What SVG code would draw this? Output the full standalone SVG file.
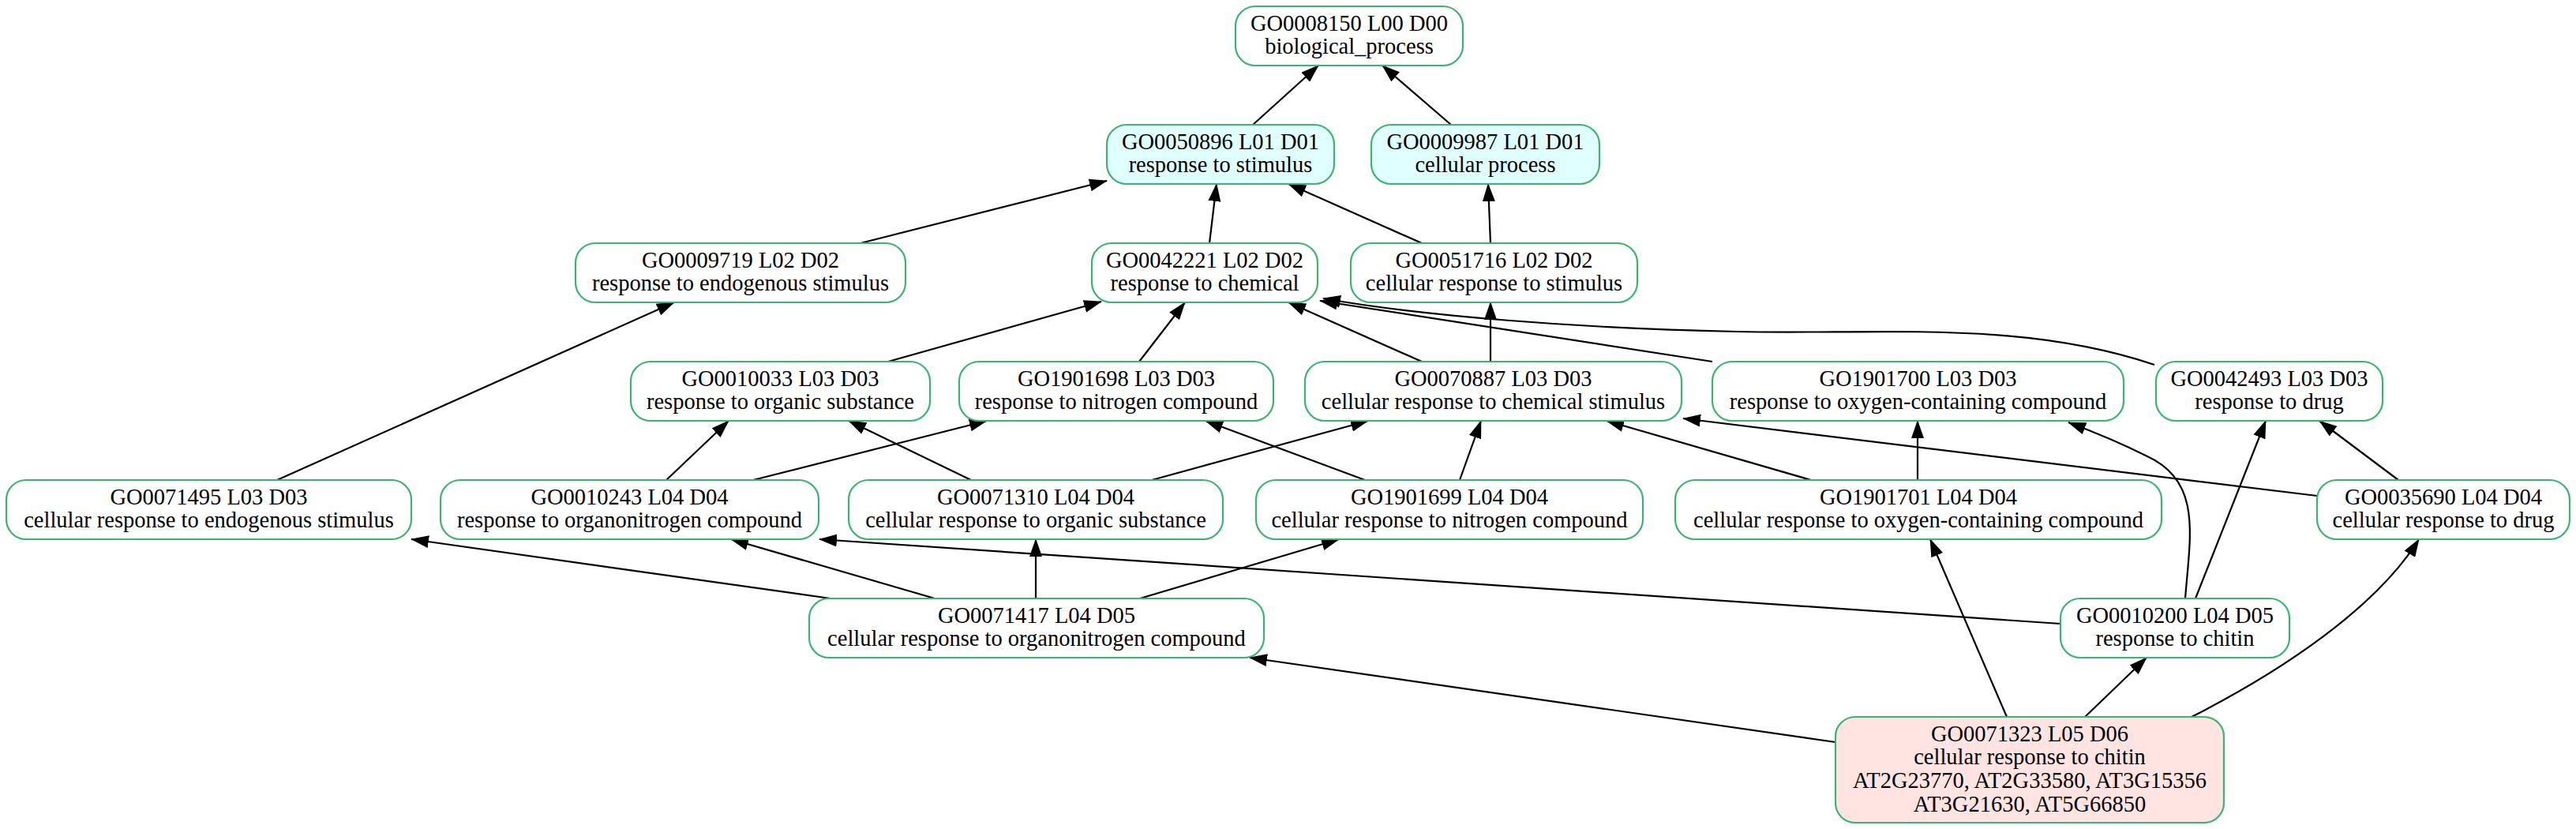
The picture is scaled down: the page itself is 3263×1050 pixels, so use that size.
<svg xmlns="http://www.w3.org/2000/svg" width="3263" height="1050" viewBox="0 0 3263 1050">
<style>
.node rect{fill:#ffffff;stroke:#3cb371;stroke-width:2.2}
.node.l1 rect{fill:#e0ffff}
.node.leaf rect{fill:#ffe4e1}
.node text{font-family:"Liberation Serif","Times New Roman",serif;font-size:28.5px;text-anchor:middle;fill:#000}
.edges path{fill:none;stroke:#000;stroke-width:2.2;marker-end:url(#arr)}
</style>
<defs>
<marker id="arr" markerUnits="userSpaceOnUse" markerWidth="23" markerHeight="16" viewBox="0 0 23 16" refX="22" refY="8" orient="auto"><path d="M0,0 L23,8 L0,16 z" fill="#000"/></marker>
</defs>
<rect width="3263" height="1050" fill="#fff"/>
<g class="edges" id="edges">
<path d="M1587,158 L1670,83"/>
<path d="M1838,158 L1751,83"/>
<path d="M1532,308 L1541,233"/>
<path d="M1801,308 L1632,233"/>
<path d="M1888,308 L1885,233"/>
<path d="M1090,308 L1402,229"/>
<path d="M1125,458 L1395,382"/>
<path d="M1443,458 L1501,383"/>
<path d="M1801,458 L1632,383"/>
<path d="M1888,458 L1888,383"/>
<path d="M2169,458 L1672,381"/>
<path d="M2729,462 C2560,405 2380,424 2200,420 C2000,416 1800,400 1676,378"/>
<path d="M351,608 L854,383"/>
<path d="M844,608 L923,533"/>
<path d="M954,608 L1250,533"/>
<path d="M1230,608 L1075,533"/>
<path d="M1459,608 L1733,533"/>
<path d="M1729,608 L1527,533"/>
<path d="M1849,608 L1876,533"/>
<path d="M2294,608 L2035,533"/>
<path d="M2429,608 L2429,533"/>
<path d="M2935,628 L2132,530"/>
<path d="M3038,608 L2938,533"/>
<path d="M2781,758 L2870,533"/>
<path d="M2768,758 C2774,680 2790,610 2720,578 C2690,563 2655,548 2620,535"/>
<path d="M2610,790 L1038,683"/>
<path d="M1052,758 L521,683"/>
<path d="M1184,758 L926,683"/>
<path d="M1312,758 L1312,683"/>
<path d="M1444,758 L1696,683"/>
<path d="M2325,940 L1583,833"/>
<path d="M2542,908 L2445,683"/>
<path d="M2641,908 L2719,833"/>
<path d="M2776,908 C2890,850 3010,770 3064,683"/>
</g>
<g class="node" id="GO0008150"><rect x="1565" y="8" width="288" height="75" rx="25"/><text><tspan x="1709" y="39">GO0008150 L00 D00</tspan><tspan x="1709" y="68">biological_process</tspan></text></g>
<g class="node l1" id="GO0050896"><rect x="1402" y="158" width="288" height="75" rx="25"/><text><tspan x="1546" y="189">GO0050896 L01 D01</tspan><tspan x="1546" y="218">response to stimulus</tspan></text></g>
<g class="node l1" id="GO0009987"><rect x="1737" y="158" width="289" height="75" rx="25"/><text><tspan x="1881.5" y="189">GO0009987 L01 D01</tspan><tspan x="1881.5" y="218">cellular process</tspan></text></g>
<g class="node" id="GO0009719"><rect x="729" y="308" width="418" height="75" rx="25"/><text><tspan x="938" y="339">GO0009719 L02 D02</tspan><tspan x="938" y="368">response to endogenous stimulus</tspan></text></g>
<g class="node" id="GO0042221"><rect x="1383" y="308" width="286" height="75" rx="25"/><text><tspan x="1526" y="339">GO0042221 L02 D02</tspan><tspan x="1526" y="368">response to chemical</tspan></text></g>
<g class="node" id="GO0051716"><rect x="1711" y="308" width="363" height="75" rx="25"/><text><tspan x="1892.5" y="339">GO0051716 L02 D02</tspan><tspan x="1892.5" y="368">cellular response to stimulus</tspan></text></g>
<g class="node" id="GO0010033"><rect x="799" y="458" width="379" height="75" rx="25"/><text><tspan x="988.5" y="489">GO0010033 L03 D03</tspan><tspan x="988.5" y="518">response to organic substance</tspan></text></g>
<g class="node" id="GO1901698"><rect x="1215" y="458" width="398" height="75" rx="25"/><text><tspan x="1414" y="489">GO1901698 L03 D03</tspan><tspan x="1414" y="518">response to nitrogen compound</tspan></text></g>
<g class="node" id="GO0070887"><rect x="1653" y="458" width="477" height="75" rx="25"/><text><tspan x="1891.5" y="489">GO0070887 L03 D03</tspan><tspan x="1891.5" y="518">cellular response to chemical stimulus</tspan></text></g>
<g class="node" id="GO1901700"><rect x="2169" y="458" width="521" height="75" rx="25"/><text><tspan x="2429.5" y="489">GO1901700 L03 D03</tspan><tspan x="2429.5" y="518">response to oxygen-containing compound</tspan></text></g>
<g class="node" id="GO0042493"><rect x="2731" y="458" width="287" height="75" rx="25"/><text><tspan x="2874.5" y="489">GO0042493 L03 D03</tspan><tspan x="2874.5" y="518">response to drug</tspan></text></g>
<g class="node" id="GO0071495"><rect x="8" y="608" width="513" height="75" rx="25"/><text><tspan x="264.5" y="639">GO0071495 L03 D03</tspan><tspan x="264.5" y="668">cellular response to endogenous stimulus</tspan></text></g>
<g class="node" id="GO0010243"><rect x="558" y="608" width="479" height="75" rx="25"/><text><tspan x="797.5" y="639">GO0010243 L04 D04</tspan><tspan x="797.5" y="668">response to organonitrogen compound</tspan></text></g>
<g class="node" id="GO0071310"><rect x="1075" y="608" width="474" height="75" rx="25"/><text><tspan x="1312" y="639">GO0071310 L04 D04</tspan><tspan x="1312" y="668">cellular response to organic substance</tspan></text></g>
<g class="node" id="GO1901699"><rect x="1591" y="608" width="490" height="75" rx="25"/><text><tspan x="1836" y="639">GO1901699 L04 D04</tspan><tspan x="1836" y="668">cellular response to nitrogen compound</tspan></text></g>
<g class="node" id="GO1901701"><rect x="2122" y="608" width="616" height="75" rx="25"/><text><tspan x="2430" y="639">GO1901701 L04 D04</tspan><tspan x="2430" y="668">cellular response to oxygen-containing compound</tspan></text></g>
<g class="node" id="GO0035690"><rect x="2935" y="608" width="320" height="75" rx="25"/><text><tspan x="3095" y="639">GO0035690 L04 D04</tspan><tspan x="3095" y="668">cellular response to drug</tspan></text></g>
<g class="node" id="GO0071417"><rect x="1025" y="758" width="576" height="75" rx="25"/><text><tspan x="1313" y="789">GO0071417 L04 D05</tspan><tspan x="1313" y="818">cellular response to organonitrogen compound</tspan></text></g>
<g class="node" id="GO0010200"><rect x="2610" y="758" width="290" height="75" rx="25"/><text><tspan x="2755" y="789">GO0010200 L04 D05</tspan><tspan x="2755" y="818">response to chitin</tspan></text></g>
<g class="node leaf" id="GO0071323"><rect x="2325" y="908" width="492" height="134" rx="25"/><text><tspan x="2571" y="939">GO0071323 L05 D06</tspan><tspan x="2571" y="968">cellular response to chitin</tspan><tspan x="2571" y="998">AT2G23770, AT2G33580, AT3G15356</tspan><tspan x="2571" y="1028">AT3G21630, AT5G66850</tspan></text></g>
</svg>
